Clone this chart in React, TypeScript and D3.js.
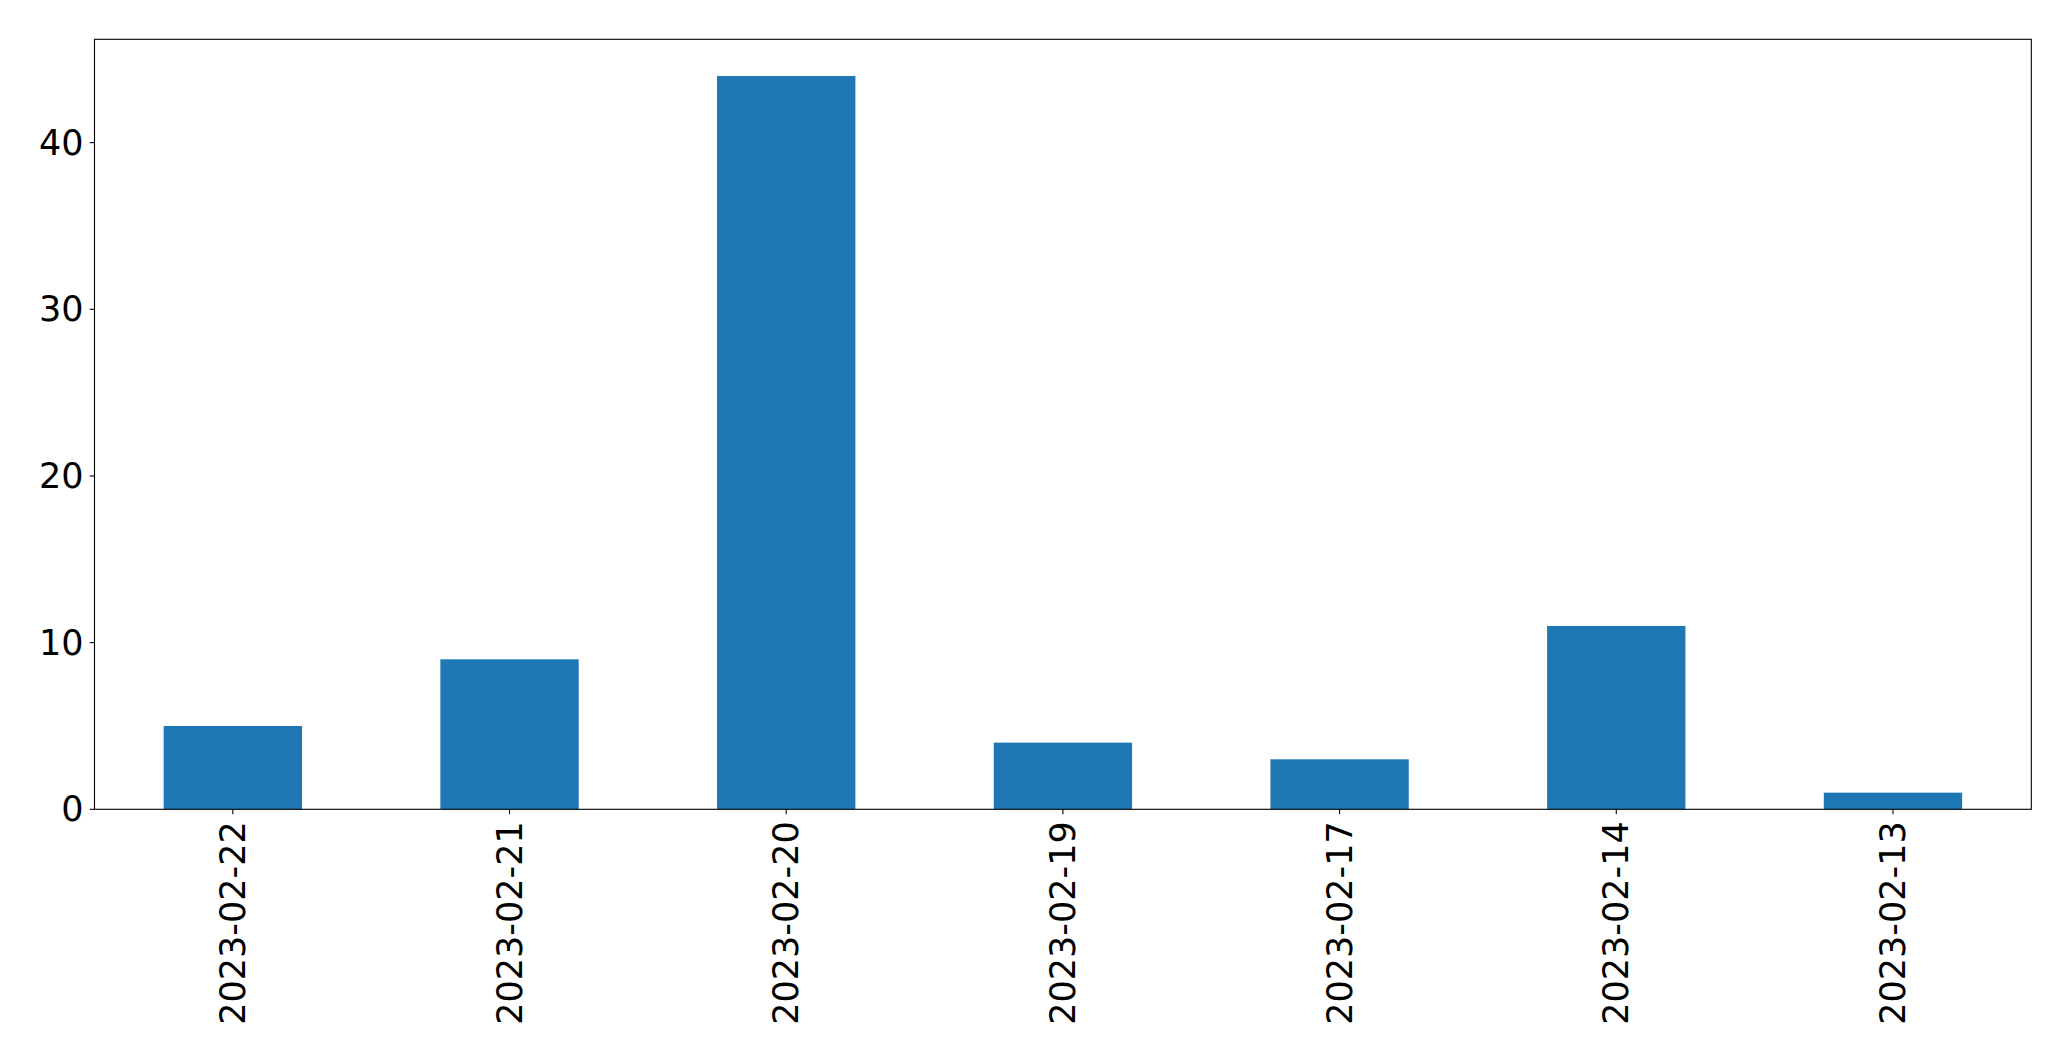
import React from "react";
import * as d3 from "d3";

const categories = ["2023-02-22", "2023-02-21", "2023-02-20", "2023-02-19", "2023-02-17", "2023-02-14", "2023-02-13"];
const values = [5, 9, 44, 4, 3, 11, 1];
const yTicks = [0, 10, 20, 30, 40];

const W = 2071;
const H = 1061;
const M = { left: 94.5, right: 2031.3, top: 39.3, bottom: 809.3 };
const FONT = "DejaVu Sans, sans-serif";
const FS = 35;

export default function App() {
  const x = d3.scaleBand<string>().domain(categories).range([M.left, M.right]).paddingInner(0.5).paddingOuter(0.25);
  const y = d3.scaleLinear().domain([0, d3.max(values)! * 1.05]).range([M.bottom, M.top]);
  return (
    <svg width={W} height={H} style={{ position: "absolute", left: 0, top: 0, background: "#fff" }}>
      {categories.map((c, i) => (
        <rect key={c} x={x(c)} y={y(values[i])} width={x.bandwidth()} height={y(0) - y(values[i])} fill="#1f77b4" />
      ))}
      <rect x={M.left} y={M.top} width={M.right - M.left} height={M.bottom - M.top} fill="none" stroke="#000" strokeWidth={1.1} />
      {yTicks.map((t) => (
        <g key={t}>
          <line x1={M.left - 4.9} x2={M.left} y1={y(t)} y2={y(t)} stroke="#000" strokeWidth={1.1} />
          <text x={M.left - 11} y={y(t)} textAnchor="end" dominantBaseline="central" fontFamily={FONT} fontSize={FS} fill="#000">
            {t}
          </text>
        </g>
      ))}
      {categories.map((c) => {
        const cx = x(c)! + x.bandwidth() / 2;
        return (
          <g key={c}>
            <line x1={cx} x2={cx} y1={M.bottom} y2={M.bottom + 4.9} stroke="#000" strokeWidth={1.1} />
            <text
              transform={`translate(${cx},${M.bottom + 12}) rotate(-90)`}
              textAnchor="end"
              dominantBaseline="central"
              fontFamily={FONT}
              fontSize={FS}
              fill="#000"
            >
              {c}
            </text>
          </g>
        );
      })}
    </svg>
  );
}
